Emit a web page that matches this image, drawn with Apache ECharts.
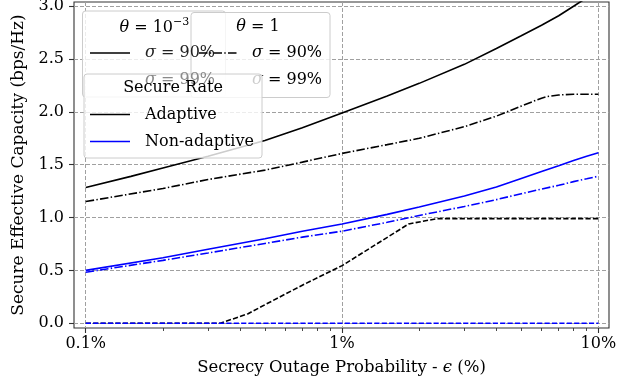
<!DOCTYPE html>
<html><head><meta charset="utf-8">
<script src="https://cdn.jsdelivr.net/npm/echarts@6/dist/echarts.min.js"></script>
<style>html,body{margin:0;padding:0;background:#fff}#c{width:640px;height:382px}</style>
</head><body><div id="c"></div>
<script>
// ---- tick labels ----
const xTickValues = [0.1, 1, 10];
const xTickLabels = ['0.1%', '1%', '10%'];
const xMinorTicks = [0.2, 0.3, 0.4, 0.5, 0.6, 0.7, 0.8, 0.9, 2, 3, 4, 5, 6, 7, 8, 9];
const yTickValues = [0, 0.5, 1, 1.5, 2, 2.5, 3];

// ---- series (epsilon in %, capacity in bps/Hz) ----
const epsAdaptT3 = [0.1, 0.15, 0.2, 0.3, 0.5, 0.7, 1, 1.5, 2, 3, 4, 5, 6, 7, 8, 9, 10];
const valAdaptT3 = [1.285, 1.39, 1.47, 1.58, 1.73, 1.85, 1.99, 2.15, 2.27, 2.45, 2.60, 2.72, 2.82, 2.91, 3.00, 3.08, 3.16];

const epsAdaptT1 = [0.1, 0.2, 0.3, 0.5, 0.7, 1, 1.5, 2, 3, 4, 5, 6, 6.3, 7, 8, 10];
const valAdaptT1 = [1.152, 1.275, 1.36, 1.449, 1.525, 1.607, 1.69, 1.75, 1.86, 1.96, 2.055, 2.13, 2.145, 2.16, 2.167, 2.167];

const epsNonAdaptT3 = [0.1, 0.2, 0.3, 0.5, 0.7, 1, 1.5, 2, 3, 4, 5, 6, 7, 8, 9, 10];
const valNonAdaptT3 = [0.50, 0.62, 0.70, 0.80, 0.87, 0.94, 1.03, 1.10, 1.205, 1.29, 1.37, 1.435, 1.49, 1.54, 1.58, 1.614];

const epsNonAdaptT1 = [0.1, 0.2, 0.3, 0.5, 0.7, 1, 1.5, 2, 3, 4, 5, 6, 7, 8, 9, 10];
const valNonAdaptT1 = [0.483, 0.595, 0.665, 0.755, 0.815, 0.871, 0.955, 1.02, 1.105, 1.17, 1.225, 1.27, 1.305, 1.34, 1.367, 1.392];

const epsAdaptS99 = [0.1, 0.335, 0.43, 0.5, 0.7, 1, 1.82, 2.35, 10];
const valAdaptS99 = [0, 0, 0.09, 0.175, 0.36, 0.545, 0.94, 0.99, 0.99];

const epsNonAdaptS99 = [0.1, 10];
const valNonAdaptS99 = [0, 0];

// ---- styling ----
const FONT = "'DejaVu Serif', 'Liberation Serif', serif";
const X_MIN = Math.log10(0.09), X_MAX = Math.log10(11);
const Y_MIN = -0.045, Y_MAX = 3.04;
const DASHDOT = [8.5, 2.3, 1.4, 2.3];
const DASHED = [5.2, 2.2];
const LW = 1.6;

function pts(eps, vals) { return eps.map((e, i) => [Math.log10(e), vals[i]]); }
function lineSeries(name, eps, vals, color, type) {
  return {
    name, type: 'line', data: pts(eps, vals), xAxisIndex: 0, yAxisIndex: 0,
    symbol: 'none', showSymbol: false, animation: false, silent: true, clip: true,
    lineStyle: { color, width: LW, type }
  };
}

const chart = echarts.init(document.getElementById('c'), null, { renderer: 'canvas' });

const z0 = 20;
const BOXFILL = 'rgba(255,255,255,0.8)';
function box(x, y, w, h, z) {
  return { type: 'rect', z, silent: true, shape: { x, y, width: w, height: h, r: 3 },
    style: { fill: BOXFILL, stroke: '#cccccc', lineWidth: 1 } };
}
function seg(x1, x2, y, color, dash, z) {
  return { type: 'line', z, silent: true, shape: { x1, y1: y, x2, y2: y },
    style: { stroke: color, lineWidth: LW, lineDash: dash || null } };
}
function txt(x, y, text, align, z, size, color) {
  return { type: 'text', z, silent: true, x, y,
    style: { text, fontFamily: FONT, fontSize: size || 16, fill: color || '#000', align, verticalAlign: 'middle',
      rich: { i: { fontFamily: FONT, fontSize: size || 16, fontStyle: 'italic', color: color || '#000' } } } };
}

const graphics = [
  // theta = 1e-3 legend
  box(82.5, 11, 143, 86, z0),
  txt(173, 28, '{i|θ} = 10', 'right', z0 + 1),
  txt(173, 22, '−3', 'left', z0 + 1, 11),
  seg(90, 130, 53, '#000', null, z0 + 1),
  txt(145, 53, '{i|σ} = 90%', 'left', z0 + 3, 16, '#222'),
  txt(145, 80, '{i|σ} = 99%', 'left', z0 + 5, 16, '#8a8a8a'),
  // theta = 1 legend
  box(191, 12.5, 139, 85, z0 + 2),
  txt(258, 27, '{i|θ} = 1', 'center', z0 + 3),
  seg(199, 238, 53, '#000', DASHDOT, z0 + 3),
  txt(252, 53, '{i|σ} = 90%', 'left', z0 + 3),
  txt(252, 80, '{i|σ} = 99%', 'left', z0 + 3),
  // Secure rate legend
  box(84, 74, 178, 84, z0 + 4),
  txt(173, 88, 'Secure Rate', 'center', z0 + 5),
  seg(90, 130, 114.5, '#000', null, z0 + 5),
  txt(145, 114.5, 'Adaptive', 'left', z0 + 5),
  seg(90, 130, 141.5, '#0000ff', null, z0 + 5),
  txt(145, 141.5, 'Non-adaptive', 'left', z0 + 5)
];

const axisColor = '#333';
chart.setOption({
  animation: false,
  backgroundColor: '#fff',
  textStyle: { fontFamily: FONT },
  grid: { left: 74, right: 31, top: 2, bottom: 54, show: true, borderColor: axisColor, borderWidth: 1.1,
          backgroundColor: 'transparent', containLabel: false, outerBoundsMode: 'none' },
  xAxis: [
    {
      type: 'value', min: X_MIN, max: X_MAX, position: 'bottom',
      name: 'Secrecy Outage Probability - {i|ϵ} (%)', nameLocation: 'middle', nameGap: 31,
      nameTextStyle: { fontFamily: FONT, fontSize: 16.5, color: '#000',
                       rich: { i: { fontFamily: FONT, fontSize: 16.5, fontStyle: 'italic', color: '#000' } } },
      axisLine: { show: false, onZero: false },
      axisTick: { show: true, inside: false, length: 5, lineStyle: { color: axisColor, width: 1.1 },
                  customValues: xTickValues.map(v => Math.log10(v)) },
      axisLabel: { show: true, margin: 8, fontFamily: FONT, fontSize: 16, color: '#000',
                   customValues: xTickValues.map(v => Math.log10(v)),
                   formatter: v => { let bi = 0; xTickValues.forEach((t, i) => { if (Math.abs(Math.log10(t) - v) < Math.abs(Math.log10(xTickValues[bi]) - v)) bi = i; }); return xTickLabels[bi]; } },
      splitLine: { show: true, lineStyle: { color: '#a0a0a0', width: 1, type: [4, 2] } }
    },
    {
      type: 'value', min: X_MIN, max: X_MAX, position: 'bottom', offset: 0,
      axisLine: { show: false, onZero: false },
      axisTick: { show: true, inside: false, length: 3, lineStyle: { color: axisColor, width: 0.9 },
                  customValues: xMinorTicks.map(v => Math.log10(v)) },
      axisLabel: { show: false },
      splitLine: { show: false }
    }
  ],
  yAxis: {
    type: 'value', min: Y_MIN, max: Y_MAX,
    name: 'Secure Effective Capacity (bps/Hz)', nameLocation: 'middle', nameGap: 47, nameRotate: 90,
    nameTextStyle: { fontFamily: FONT, fontSize: 17, color: '#000' },
    axisLine: { show: false, onZero: false },
    axisTick: { show: true, inside: false, length: 5, lineStyle: { color: axisColor, width: 1.1 },
                customValues: yTickValues },
    axisLabel: { show: true, margin: 10, fontFamily: FONT, fontSize: 16, color: '#000',
                 customValues: yTickValues, formatter: v => v.toFixed(1) },
    splitLine: { show: true, lineStyle: { color: '#a0a0a0', width: 1, type: [4, 2] } }
  },
  series: [
    lineSeries('Adaptive θ=1e-3', epsAdaptT3, valAdaptT3, '#000000', 'solid'),
    lineSeries('Adaptive θ=1', epsAdaptT1, valAdaptT1, '#000000', DASHDOT),
    lineSeries('Non-adaptive θ=1e-3', epsNonAdaptT3, valNonAdaptT3, '#0000ff', 'solid'),
    lineSeries('Non-adaptive θ=1', epsNonAdaptT1, valNonAdaptT1, '#0000ff', DASHDOT),
    lineSeries('Adaptive σ=99%', epsAdaptS99, valAdaptS99, '#000000', DASHED),
    lineSeries('Non-adaptive σ=99%', epsNonAdaptS99, valNonAdaptS99, '#0000ff', DASHED)
  ],
  graphic: { elements: graphics }
});
</script></body></html>
